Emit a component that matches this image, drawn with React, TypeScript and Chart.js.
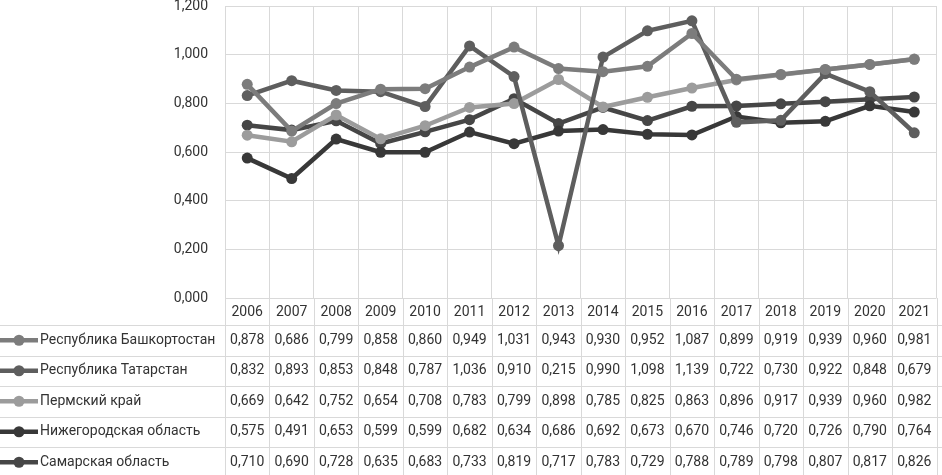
import React, { useEffect, useRef } from "react";
import { Chart, registerables } from "chart.js";

Chart.register(...registerables);

const years = ["2006","2007","2008","2009","2010","2011","2012","2013","2014","2015","2016","2017","2018","2019","2020","2021"];
const bashkortostan = [0.878,0.686,0.799,0.858,0.860,0.949,1.031,0.943,0.930,0.952,1.087,0.899,0.919,0.939,0.960,0.981];
const tatarstan = [0.832,0.893,0.853,0.848,0.787,1.036,0.910,0.215,0.990,1.098,1.139,0.722,0.730,0.922,0.848,0.679];
const perm = [0.669,0.642,0.752,0.654,0.708,0.783,0.799,0.898,0.785,0.825,0.863,0.896,0.917,0.939,0.960,0.982];
const nizhny = [0.575,0.491,0.653,0.599,0.599,0.682,0.634,0.686,0.692,0.673,0.670,0.746,0.720,0.726,0.790,0.764];
const samara = [0.710,0.690,0.728,0.635,0.683,0.733,0.819,0.717,0.783,0.729,0.788,0.789,0.798,0.807,0.817,0.826];
const seriesNames = ["Республика Башкортостан","Республика Татарстан","Пермский край","Нижегородская область","Самарская область"];
const seriesColors = ["#7c7c7c","#5e5e5e","#9c9c9c","#383838","#464646"];
const yTicks = [0, 0.2, 0.4, 0.6, 0.8, 1.0, 1.2];

const FONT = "Roboto";
const TEXT = "#333333";
const fmt = (v: number) => v.toFixed(3).replace(".", ",");

const tablePlugin = {
  id: "dataTable",
  afterDraw(chart: any) {
    const ctx = chart.ctx as CanvasRenderingContext2D;
    const x = chart.scales.x;
    const area = chart.chartArea;
    const W = chart.width;
    const H = chart.height;
    const colW = x.width / years.length;
    const headerH = 27;
    const rowH = 30.5;
    const top = area.bottom;
    ctx.save();
    ctx.strokeStyle = "#d9d9d9";
    ctx.lineWidth = 1;
    for (let i = 0; i <= years.length; i++) {
      const px = Math.round(x.left + i * colW) + 0.5;
      ctx.beginPath();
      ctx.moveTo(px, top);
      ctx.lineTo(px, H);
      ctx.stroke();
    }
    for (let r = 0; r <= seriesNames.length; r++) {
      const py = Math.round(top + headerH + r * rowH) + 0.5;
      ctx.beginPath();
      ctx.moveTo(0, py);
      ctx.lineTo(W, py);
      ctx.stroke();
    }
    ctx.fillStyle = TEXT;
    ctx.font = `14px ${FONT}`;
    ctx.textBaseline = "middle";
    ctx.textAlign = "center";
    years.forEach((yr, i) => {
      ctx.fillText(yr, x.getPixelForValue(i), top + headerH / 2 + 1);
    });
    const data = [bashkortostan, tatarstan, perm, nizhny, samara];
    data.forEach((vals, r) => {
      const cy = top + headerH + r * rowH + rowH / 2;
      ctx.strokeStyle = seriesColors[r];
      ctx.lineWidth = 4.5;
      ctx.beginPath();
      ctx.moveTo(0, cy);
      ctx.lineTo(38, cy);
      ctx.stroke();
      ctx.fillStyle = seriesColors[r];
      ctx.beginPath();
      ctx.arc(19, cy, 5.5, 0, Math.PI * 2);
      ctx.fill();
      ctx.fillStyle = TEXT;
      ctx.textAlign = "left";
      ctx.font = `14px ${FONT}`;
      ctx.fillText(seriesNames[r], 40, cy);
      ctx.textAlign = "center";
      vals.forEach((v, i) => {
        ctx.fillText(fmt(v), x.getPixelForValue(i), cy);
      });
    });
    ctx.restore();
  },
};

export default function App() {
  const ref = useRef<HTMLCanvasElement>(null);
  useEffect(() => {
    document.body.style.margin = "0";
    const all = [bashkortostan, tatarstan, perm, nizhny, samara];
    const chart = new Chart(ref.current!, {
      type: "line",
      data: {
        labels: years,
        datasets: all.map((d, i) => ({
          label: seriesNames[i],
          data: d,
          borderColor: seriesColors[i],
          backgroundColor: seriesColors[i],
          borderWidth: 4.5,
          pointRadius: 5.5,
          pointHoverRadius: 5.5,
          pointBorderWidth: 0,
          tension: 0,
        })),
      },
      options: {
        responsive: false,
        animation: false,
        devicePixelRatio: 1,
        layout: { padding: { top: 6, bottom: 177, left: 0, right: 0 } },
        plugins: { legend: { display: false }, tooltip: { enabled: false } },
        scales: {
          x: {
            offset: true,
            grid: { color: "#d9d9d9", offset: true, drawTicks: false },
            border: { display: false },
            ticks: { display: false },
            afterFit: (s: any) => { s.height = 0; s.paddingLeft = 0; s.paddingRight = 0; },
          },
          y: {
            min: 0,
            max: 1.2,
            afterBuildTicks: (s: any) => { s.ticks = yTicks.map((v) => ({ value: v })); },
            grid: { color: "#d9d9d9", drawTicks: false },
            border: { display: false },
            ticks: {
              padding: 17,
              color: TEXT,
              font: { family: FONT, size: 14 },
              callback: (v: any) => fmt(Number(v)),
            },
            afterFit: (s: any) => { s.width = 225; s.paddingTop = 0; s.paddingBottom = 0; },
          },
        },
      },
      plugins: [tablePlugin],
    });
    return () => chart.destroy();
  }, []);
  return (
    <div style={{ position: "fixed", left: 0, top: 0, width: 942, height: 475, background: "#fff" }}>
      <canvas ref={ref} width={942} height={475} />
    </div>
  );
}
